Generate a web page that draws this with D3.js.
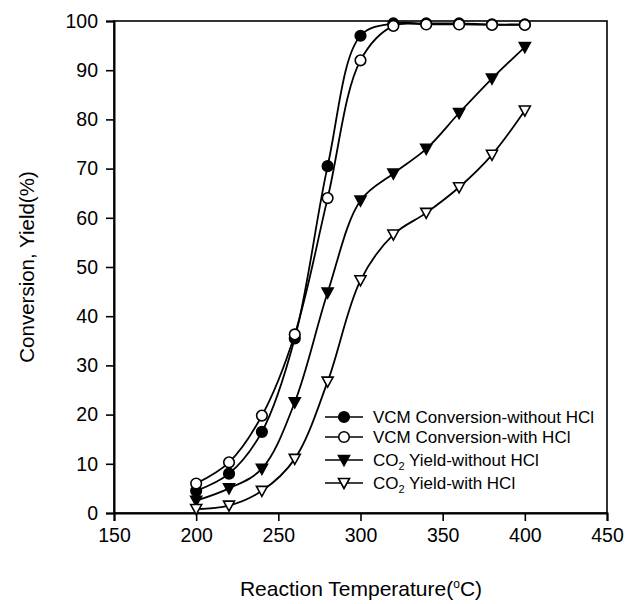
<!DOCTYPE html>
<html>
<head>
<meta charset="utf-8">
<script src="https://cdn.jsdelivr.net/npm/d3@7"></script>
<style>
  body { margin: 0; background: #fff; }
  text { font-family: "Liberation Sans", Arial, sans-serif; fill: #000; }
</style>
</head>
<body>
<div id="chart"></div>
<script>
// temperatures (°C)
const temps = [200, 220, 240, 260, 280, 300, 320, 340, 360, 380, 400];
// series values (%)
const vcmWithout = [4.5, 8, 16.5, 35.5, 70.5, 97, 99.5, 99.5, 99.5, 99.3, 99.3];
const vcmWith = [6, 10.3, 19.8, 36.3, 64, 92, 99, 99.3, 99.3, 99.2, 99.2];
const co2Without = [2.5, 5, 9, 22.5, 44.8, 63.5, 69, 74, 81.3, 88.3, 94.7];
const co2With = [0.8, 1.5, 4.5, 11, 26.7, 47.3, 56.6, 61, 66.2, 72.8, 81.8];
const xTicks = [150, 200, 250, 300, 350, 400, 450];
const yTicks = [0, 10, 20, 30, 40, 50, 60, 70, 80, 90, 100];

const series = [
  {name: "VCM Conversion-without HCl", values: vcmWithout, marker: "circle", fill: "#000"},
  {name: "VCM Conversion-with HCl", values: vcmWith, marker: "circle", fill: "#fff"},
  {name: "CO2 Yield-without HCl", values: co2Without, marker: "tri", fill: "#000", sub: true, pre: "CO", post: " Yield-without HCl"},
  {name: "CO2 Yield-with HCl", values: co2With, marker: "tri", fill: "#fff", sub: true, pre: "CO", post: " Yield-with HCl"}
];

const width = 638, height = 604;
const svg = d3.select("#chart").append("svg")
  .attr("width", width)
  .attr("height", height);

const x = d3.scaleLinear().domain([150, 450]).range([114, 607]);
const y = d3.scaleLinear().domain([0, 100]).range([513, 21]);

// frame
svg.append("rect")
  .attr("x", x(150)).attr("y", y(100))
  .attr("width", x(450) - x(150)).attr("height", y(0) - y(100))
  .attr("fill", "none").attr("stroke", "#000").attr("stroke-width", 1.6);

const xAxis = svg.append("g")
  .attr("transform", `translate(0,${y(0)})`)
  .call(d3.axisBottom(x).tickValues(xTicks).tickSize(8).tickPadding(7));
const yAxis = svg.append("g")
  .attr("transform", `translate(${x(150)},0)`)
  .call(d3.axisLeft(y).tickValues(yTicks).tickSize(8).tickPadding(8));

[xAxis, yAxis].forEach(g => {
  g.select(".domain").attr("stroke-width", 2);
  g.selectAll(".tick line").attr("stroke-width", 1.6);
  g.selectAll(".tick text").style("font-size", "19.5px").attr("fill", "#000");
});

// axis titles
const xt = svg.append("text")
  .attr("x", 361).attr("y", 596)
  .attr("text-anchor", "middle")
  .style("font-size", "21px")
  .text("Reaction Temperature(");
xt.append("tspan").attr("dy", -8).style("font-size", "12px").text("o");
xt.append("tspan").attr("dy", 8).text("C)");

svg.append("text")
  .attr("transform", "translate(34,267) rotate(-90)")
  .attr("text-anchor", "middle")
  .style("font-size", "20.5px")
  .text("Conversion, Yield(%)");

const line = d3.line()
  .x((d, i) => x(temps[i]))
  .y(d => y(d))
  .curve(d3.curveCatmullRom.alpha(0.5));

function drawMarker(g, type, fill) {
  if (type === "circle") {
    g.append("circle").attr("r", 5.3)
      .attr("fill", fill).attr("stroke", "#000").attr("stroke-width", 1.6);
  } else {
    g.append("path").attr("d", "M-5.5,-4.5L5.5,-4.5L0,5.5Z")
      .attr("fill", fill).attr("stroke", "#000").attr("stroke-width", 1.6)
      .attr("stroke-linejoin", "miter");
  }
}

// lines and markers, filled series first so open markers sit on top
series.forEach(s => {
  svg.append("path")
    .datum(s.values)
    .attr("d", line)
    .attr("fill", "none")
    .attr("stroke", "#000")
    .attr("stroke-width", 1.8);
});
series.forEach(s => {
  s.values.forEach((v, i) => {
    const g = svg.append("g").attr("transform", `translate(${x(temps[i])},${y(v)})`);
    drawMarker(g, s.marker, s.fill);
  });
});

// legend
const legY = [417, 437, 460, 483];
series.forEach((s, i) => {
  const g = svg.append("g").attr("transform", `translate(325,${legY[i]})`);
  g.append("line").attr("x1", 0).attr("x2", 38)
    .attr("stroke", "#000").attr("stroke-width", 1.6);
  const m = g.append("g").attr("transform", "translate(19,0)");
  drawMarker(m, s.marker, s.fill);
  const t = g.append("text").attr("x", 48).attr("y", 6).style("font-size", "17px");
  if (s.sub) {
    t.text(s.pre);
    t.append("tspan").attr("dy", 4).style("font-size", "11px").text("2");
    t.append("tspan").attr("dy", -4).text(s.post);
  } else {
    t.text(s.name);
  }
});
</script>
</body>
</html>
